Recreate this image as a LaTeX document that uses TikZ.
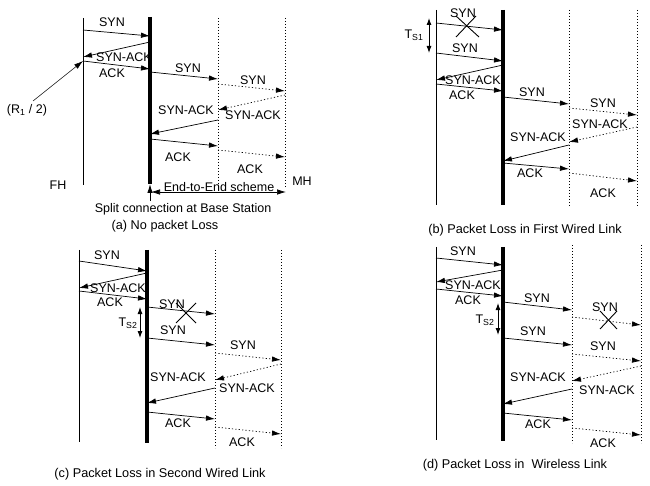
\documentclass[tikz,border=0pt]{standalone}
\usepackage{fontspec}
\setmainfont{Liberation Sans}
\usepackage{tikz}
\usetikzlibrary{arrows.meta, positioning}

\tikzset{
	fhline/.style={
			line width=0.8pt,
			draw=black
		},
	bsline/.style={
			line width=3.2pt,
			draw=black
		},
	mhline/.style={
			line width=0.9pt,
			draw=black,
			dash pattern=on 0.9pt off 2.1pt
		},
	msg/.style={
			line width=0.7pt,
			-{Latex[length=9pt,width=5.5pt]}
		},
	wmsg/.style={
			msg,
			dash pattern=on 1.2pt off 2.2pt
		},
	tsarrow/.style={
			line width=0.9pt,
			{Latex[length=7pt,width=5pt]}-{Latex[length=7pt,width=5pt]}
		},
	lossmark/.style={
			line width=0.9pt
		},
	lbl/.style={
			inner sep=0pt,
			font=\fontsize{12.5}{15}\selectfont
		},
	caption/.style={
			inner sep=0pt,
			font=\fontsize{12.7}{15}\selectfont
		}
}

\begin{document}
\begin{tikzpicture}[x=1pt, y=-1pt]
  \useasboundingbox (0,0) rectangle (650,486);

  % (a) no packet loss
  \coordinate (fhAt) at (83,18);   \coordinate (fhAb) at (83,185);
  \coordinate (bsAt) at (150,17);  \coordinate (bsAb) at (150,184);
  \coordinate (w1At) at (218,18);  \coordinate (w1Ab) at (218,187);
  \coordinate (mhAt) at (285,18);  \coordinate (mhAb) at (285,187);
  \draw[fhline] (fhAt) -- (fhAb);
  \draw[bsline] (bsAt) -- (bsAb);
  \draw[mhline] (w1At) -- (w1Ab);
  \draw[mhline] (mhAt) -- (mhAb);

  \coordinate (a1s) at (83,30);   \coordinate (a1e) at (150,36);
  \coordinate (a2s) at (150,42);  \coordinate (a2e) at (83,57);
  \coordinate (a3s) at (83,61);   \coordinate (a3e) at (150,69);
  \coordinate (a4s) at (150,72);  \coordinate (a4e) at (218,79);
  \coordinate (a5s) at (218,84);  \coordinate (a5e) at (285,91);
  \coordinate (a6s) at (285,95);  \coordinate (a6e) at (218,110);
  \coordinate (a7s) at (218,120); \coordinate (a7e) at (150,134);
  \coordinate (a8s) at (150,139); \coordinate (a8e) at (218,146);
  \coordinate (a9s) at (218,150); \coordinate (a9e) at (285,157);
  \draw[msg] (a1s) -- (a1e);
  \draw[msg] (a2s) -- (a2e);
  \draw[msg] (a3s) -- (a3e);
  \draw[msg] (a4s) -- (a4e);
  \draw[wmsg] (a5s) -- (a5e);
  \draw[wmsg] (a6s) -- (a6e);
  \draw[msg] (a7s) -- (a7e);
  \draw[msg] (a8s) -- (a8e);
  \draw[wmsg] (a9s) -- (a9e);

  \node[lbl] (la1) at (112,22) {SYN};
  \node[lbl] (la2) at (124,57) {SYN-ACK};
  \node[lbl] (la3) at (112,73) {ACK};
  \node[lbl] (la4) at (188,68) {SYN};
  \node[lbl] (la5) at (253,80) {SYN};
  \node[lbl] (la6) at (253,115) {SYN-ACK};
  \node[lbl] (la7) at (186,110) {SYN-ACK};
  \node[lbl] (la8) at (178,157) {ACK};
  \node[lbl] (la9) at (250,169) {ACK};

  \node[lbl] (rhalf) at (27,110) {(R\textsubscript{1} / 2)};
  \coordinate (rhalfs) at (33,101);
  \draw[msg, line width=0.5pt] (rhalfs) -- (a3s);

  \node[lbl] (fhA) at (58,185) {FH};
  \node[lbl] (mhA) at (302,181) {MH};
  \coordinate (e2es) at (151,192); \coordinate (e2ee) at (286,192);
  \draw[msg, {Latex[length=9pt,width=5.5pt]}-{Latex[length=9pt,width=5.5pt]}] (e2es) -- (e2ee);
  \node[lbl, anchor=south] (e2e) at (219,191.5) {End-to-End scheme};
  \coordinate (splits) at (150,201);
  \draw[msg, line width=0.9pt] (splits) -- (bsAb);
  \node[lbl] (split) at (183,209) {Split connection at Base Station};
  \node[caption] (capA) at (165,226) {(a) No packet Loss};

  % (b) packet loss in first wired link
  \coordinate (fhBt) at (436,10);  \coordinate (fhBb) at (436,205);
  \coordinate (bsBt) at (503,10);  \coordinate (bsBb) at (503,205);
  \coordinate (w1Bt) at (569,10);  \coordinate (w1Bb) at (569,206);
  \coordinate (mhBt) at (637,10);  \coordinate (mhBb) at (637,206);
  \draw[fhline] (fhBt) -- (fhBb);
  \draw[bsline] (bsBt) -- (bsBb);
  \draw[mhline] (w1Bt) -- (w1Bb);
  \draw[mhline] (mhBt) -- (mhBb);

  \coordinate (b1s) at (436,23);  \coordinate (b1e) at (503,30);
  \coordinate (b2s) at (436,53);  \coordinate (b2e) at (503,61);
  \coordinate (b3s) at (503,65);  \coordinate (b3e) at (436,80);
  \coordinate (b4s) at (436,84);  \coordinate (b4e) at (503,91);
  \coordinate (b5s) at (503,97);  \coordinate (b5e) at (569,104);
  \coordinate (b6s) at (569,108); \coordinate (b6e) at (637,115);
  \coordinate (b7s) at (637,127); \coordinate (b7e) at (569,142);
  \coordinate (b8s) at (569,145); \coordinate (b8e) at (503,161);
  \coordinate (b9s) at (503,163); \coordinate (b9e) at (569,169);
  \coordinate (b10s) at (569,173); \coordinate (b10e) at (637,181);
  \draw[msg] (b1s) -- (b1e);
  \draw[msg] (b2s) -- (b2e);
  \draw[msg] (b3s) -- (b3e);
  \draw[msg] (b4s) -- (b4e);
  \draw[msg] (b5s) -- (b5e);
  \draw[wmsg] (b6s) -- (b6e);
  \draw[wmsg] (b7s) -- (b7e);
  \draw[msg] (b8s) -- (b8e);
  \draw[msg] (b9s) -- (b9e);
  \draw[wmsg] (b10s) -- (b10e);

  \node[lbl] (lb1) at (463,13) {SYN};
  \node[lbl] (lb2) at (465,48) {SYN};
  \node[lbl] (lb3) at (473,80) {SYN-ACK};
  \node[lbl] (lb4) at (462,95) {ACK};
  \node[lbl] (lb5) at (532,92) {SYN};
  \node[lbl] (lb6) at (603,103) {SYN};
  \node[lbl] (lb7) at (600,124) {SYN-ACK};
  \node[lbl] (lb8) at (538,137) {SYN-ACK};
  \node[lbl] (lb9) at (530,173) {ACK};
  \node[lbl] (lb10) at (603,193) {ACK};

  \draw[lossmark] (456,16) -- (479,37);
  \draw[lossmark] (456,37) -- (476,16);
  \coordinate (tsBt) at (429,18); \coordinate (tsBb) at (429,53);
  \draw[tsarrow] (tsBt) -- (tsBb);
  \node[lbl] (tsB) at (414,35) {T\textsubscript{S1}};
  \node[caption] (capB) at (525,230) {(b) Packet Loss in First Wired Link};

  % (c) packet loss in second wired link
  \coordinate (fhCt) at (79,250);  \coordinate (fhCb) at (79,442);
  \coordinate (bsCt) at (147,250); \coordinate (bsCb) at (147,443);
  \coordinate (w1Ct) at (215,250); \coordinate (w1Cb) at (215,448);
  \coordinate (mhCt) at (281,250); \coordinate (mhCb) at (281,448);
  \draw[fhline] (fhCt) -- (fhCb);
  \draw[bsline] (bsCt) -- (bsCb);
  \draw[mhline] (w1Ct) -- (w1Cb);
  \draw[mhline] (mhCt) -- (mhCb);

  \coordinate (c1s) at (79,261);   \coordinate (c1e) at (147,271);
  \coordinate (c2s) at (147,273);  \coordinate (c2e) at (79,288);
  \coordinate (c3s) at (79,291);   \coordinate (c3e) at (147,299);
  \coordinate (c4s) at (147,307);  \coordinate (c4e) at (215,314);
  \coordinate (c5s) at (147,338);  \coordinate (c5e) at (215,345);
  \coordinate (c6s) at (215,353);  \coordinate (c6e) at (281,360);
  \coordinate (c7s) at (281,364);  \coordinate (c7e) at (215,380);
  \coordinate (c8s) at (215,388);  \coordinate (c8e) at (147,403);
  \coordinate (c9s) at (147,412);  \coordinate (c9e) at (215,419);
  \coordinate (c10s) at (215,427); \coordinate (c10e) at (281,434);
  \draw[msg] (c1s) -- (c1e);
  \draw[msg] (c2s) -- (c2e);
  \draw[msg] (c3s) -- (c3e);
  \draw[msg] (c4s) -- (c4e);
  \draw[msg] (c5s) -- (c5e);
  \draw[wmsg] (c6s) -- (c6e);
  \draw[wmsg] (c7s) -- (c7e);
  \draw[msg] (c8s) -- (c8e);
  \draw[msg] (c9s) -- (c9e);
  \draw[wmsg] (c10s) -- (c10e);

  \node[lbl] (lc1) at (107,255) {SYN};
  \node[lbl] (lc2) at (118,288) {SYN-ACK};
  \node[lbl] (lc3) at (110,302) {ACK};
  \node[lbl] (lc4) at (172,304) {SYN};
  \node[lbl] (lc5) at (173,330) {SYN};
  \node[lbl] (lc6) at (243,345) {SYN};
  \node[lbl] (lc7) at (178,377) {SYN-ACK};
  \node[lbl] (lc8) at (247,388) {SYN-ACK};
  \node[lbl] (lc9) at (178,423) {ACK};
  \node[lbl] (lc10) at (242,442) {ACK};

  \draw[lossmark] (176,303) -- (196,323);
  \draw[lossmark] (176,323) -- (196,303);
  \coordinate (tsCt) at (140,307); \coordinate (tsCb) at (140,338);
  \draw[tsarrow] (tsCt) -- (tsCb);
  \node[lbl] (tsC) at (128,323) {T\textsubscript{S2}};
  \node[caption] (capC) at (160,474) {(c) Packet Loss in Second Wired Link};

  % (d) packet loss in wireless link
  \coordinate (fhDt) at (436,247); \coordinate (fhDb) at (436,440);
  \coordinate (bsDt) at (503,247); \coordinate (bsDb) at (503,441);
  \coordinate (w1Dt) at (572,245); \coordinate (w1Db) at (572,443);
  \coordinate (mhDt) at (641,245); \coordinate (mhDb) at (641,443);
  \draw[fhline] (fhDt) -- (fhDb);
  \draw[bsline] (bsDt) -- (bsDb);
  \draw[mhline] (w1Dt) -- (w1Db);
  \draw[mhline] (mhDt) -- (mhDb);

  \coordinate (d1s) at (436,258);  \coordinate (d1e) at (503,265);
  \coordinate (d2s) at (503,270);  \coordinate (d2e) at (436,282);
  \coordinate (d3s) at (436,289);  \coordinate (d3e) at (503,296);
  \coordinate (d4s) at (503,302);  \coordinate (d4e) at (572,310);
  \coordinate (d5s) at (572,317);  \coordinate (d5e) at (641,325);
  \coordinate (d6s) at (503,338);  \coordinate (d6e) at (572,345);
  \coordinate (d7s) at (572,354);  \coordinate (d7e) at (641,361);
  \coordinate (d8s) at (641,366);  \coordinate (d8e) at (572,381);
  \coordinate (d9s) at (572,389);  \coordinate (d9e) at (503,404);
  \coordinate (d10s) at (503,413); \coordinate (d10e) at (572,420);
  \coordinate (d11s) at (572,428); \coordinate (d11e) at (641,435);
  \draw[msg] (d1s) -- (d1e);
  \draw[msg] (d2s) -- (d2e);
  \draw[msg] (d3s) -- (d3e);
  \draw[msg] (d4s) -- (d4e);
  \draw[wmsg] (d5s) -- (d5e);
  \draw[msg] (d6s) -- (d6e);
  \draw[wmsg] (d7s) -- (d7e);
  \draw[wmsg] (d8s) -- (d8e);
  \draw[msg] (d9s) -- (d9e);
  \draw[msg] (d10s) -- (d10e);
  \draw[wmsg] (d11s) -- (d11e);

  \node[lbl] (ld1) at (463,251) {SYN};
  \node[lbl] (ld2) at (473,285) {SYN-ACK};
  \node[lbl] (ld3) at (468,300) {ACK};
  \node[lbl] (ld4) at (537,298) {SYN};
  \node[lbl] (ld5) at (605,307) {SYN};
  \node[lbl] (ld6) at (533,331) {SYN};
  \node[lbl] (ld7) at (603,346) {SYN};
  \node[lbl] (ld8) at (538,377) {SYN-ACK};
  \node[lbl] (ld9) at (607,390) {SYN-ACK};
  \node[lbl] (ld10) at (538,424) {ACK};
  \node[lbl] (ld11) at (603,443) {ACK};

  \draw[lossmark] (600,311) -- (617,329);
  \draw[lossmark] (600,329) -- (617,311);
  \coordinate (tsDt) at (498,303); \coordinate (tsDb) at (498,335);
  \draw[tsarrow] (tsDt) -- (tsDb);
  \node[lbl] (tsD) at (485,320) {T\textsubscript{S2}};
  \node[caption] (capD) at (515,465) {(d) Packet Loss in\ \ Wireless Link};

\end{tikzpicture}
\end{document}
